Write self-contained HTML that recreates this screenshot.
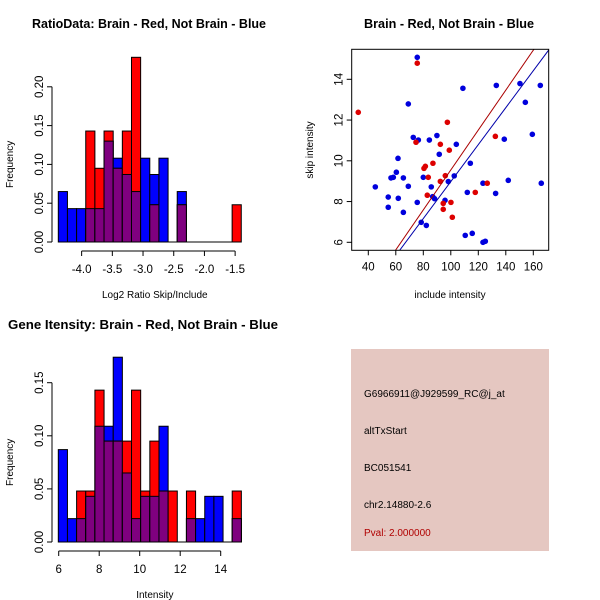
<!DOCTYPE html>
<html><head><meta charset="utf-8"><style>
body{margin:0;background:#fff}
svg{display:block;font-family:"Liberation Sans",sans-serif}
</style></head><body>
<svg id="s" width="600" height="600" xmlns="http://www.w3.org/2000/svg">
<rect width="600" height="600" fill="#fff"/>
<text x="149" y="28" font-size="12.5" font-weight="bold" text-anchor="middle" textLength="234" lengthAdjust="spacingAndGlyphs">RatioData: Brain - Red, Not Brain - Blue</text>
<text x="449" y="28" font-size="12.5" font-weight="bold" text-anchor="middle" textLength="170" lengthAdjust="spacingAndGlyphs">Brain - Red, Not Brain - Blue</text>
<text x="143" y="329" font-size="12.5" font-weight="bold" text-anchor="middle" textLength="270" lengthAdjust="spacingAndGlyphs">Gene Itensity: Brain - Red, Not Brain - Blue</text>
<g>
<rect x="351" y="349" width="198" height="202" fill="#e5c7c1"/>
<text x="364" y="397" font-size="10">G6966911@J929599_RC@j_at</text>
<text x="364" y="434" font-size="10">altTxStart</text>
<text x="364" y="471" font-size="10">BC051541</text>
<text x="364" y="508" font-size="10">chr2.14880-2.6</text>
<text x="364" y="536" font-size="10" fill="#b00000">Pval: 2.000000</text>
</g>
</svg>
<script>
// Ratio histogram data
const ratioBlue=[0.065,0.043,0.043,0.043,0.043,0.13,0.108,0.087,0.065,0.108,0.087,0.108,0,0.065,0,0,0,0,0,0];
const ratioRed=[0,0,0,0.143,0.095,0.143,0.095,0.143,0.238,0,0.048,0,0,0.048,0,0,0,0,0,0.048];
const ratioXTicks=[-4.0,-3.5,-3.0,-2.5,-2.0,-1.5];
const ratioYTicks=[0,0.05,0.10,0.15,0.20];
const ratioStart=-4.38, ratioBinW=0.149;
// Intensity histogram data
const intBlue=[0.087,0.022,0.022,0.043,0.109,0.109,0.174,0.065,0.022,0.043,0.043,0.109,0,0,0.022,0.022,0.043,0.043,0,0.022];
const intRed=[0,0,0.048,0.048,0.143,0.095,0.095,0.095,0.143,0.048,0.095,0.048,0.048,0,0.048,0,0,0,0,0.048];
const intXTicks=[6,8,10,12,14];
const intYTicks=[0,0.05,0.10,0.15];
const intStart=5.98, intBinW=0.452;
// Scatter data
const blueX=[75.6,45.1,54.5,54.5,61.6,60.4,56.5,58.2,61.8,65.5,65.5,69.1,69.1,72.7,76.4,75.6,78.5,80,82.2,84.4,85.8,86.8,88.2,89.9,91.6,98.2,95.8,104,102.5,108.8,114.2,112,110.5,115.6,123.4,125.1,123.4,132.6,133.1,138.9,141.8,150.3,154.2,159.3,165.1,165.8];
const blueY=[15.08,8.72,7.72,8.22,10.12,9.44,9.16,9.19,8.16,9.16,7.47,12.79,8.75,11.15,11.02,7.96,6.98,9.19,6.83,11.02,8.72,8.24,8.14,11.24,10.32,8.98,8.06,10.81,9.26,13.56,9.88,8.45,6.34,6.44,6.0,6.05,8.9,8.4,13.7,11.06,9.04,13.79,12.87,11.3,13.7,8.9];
const redX=[32.7,75.6,74.7,97.5,92.4,98.9,87,81.5,80.5,83.6,96,92.4,82.9,94.5,100.1,94.5,101.1,117.8,126.5,132.4];
const redY=[12.38,14.79,10.91,11.89,10.81,10.52,9.88,9.73,9.63,9.19,9.27,8.99,8.31,7.91,7.96,7.62,7.23,8.45,8.9,11.2];
const redFit=[-0.25,0.098]; const blueFit=[-0.09,0.0907];
const scXTicks=[40,60,80,100,120,140,160];
const scYTicks=[6,8,10,12,14];

const NS="http://www.w3.org/2000/svg", svg=document.getElementById('s');
function mk(tag,attrs,parent){const e=document.createElementNS(NS,tag);for(const k in attrs)e.setAttribute(k,attrs[k]);(parent||svg).appendChild(e);return e;}
function txt(x,y,s,attrs,parent){const t=mk('text',Object.assign({x:x,y:y,'font-size':11.5,'text-anchor':'middle'},attrs||{}),parent);t.textContent=s;return t;}

function hist(name,blue,red,start,bw,xTicks,yTicks,x0,xScale,y0,yScale,xAxisY,xLabel,xFmt){
  const g=mk('g',{});
  
  
  const X=v=>x0+(v-start)*xScale, Y=v=>y0-v*yScale;
  for(let i=0;i<blue.length;i++){
    const b=blue[i],r=red[i],m=Math.min(b,r);
    const xa=X(start+i*bw), w=bw*xScale;
    if(b>0){const e=mk('rect',{x:xa,y:Y(b),width:w,height:b*yScale,fill:'#0000ff',stroke:'#000','stroke-width':1},g);
      
      }
    if(r>0){const e=mk('rect',{x:xa,y:Y(r),width:w,height:r*yScale,fill:'#ff0000',stroke:'#000','stroke-width':1},g);
      
      }
    if(m>0){const e=mk('rect',{x:xa,y:Y(m),width:w,height:m*yScale,fill:'#7f007f',stroke:'#000','stroke-width':1},g);
      
      }
  }
  mk('line',{x1:X(start),x2:X(start+blue.length*bw),y1:y0,y2:y0,stroke:'#000'},g);
  const ya=mk('g',{},g);
  
  
  mk('line',{x1:52,x2:52,y1:Y(yTicks[0]),y2:Y(yTicks[yTicks.length-1]),stroke:'#000'},ya);
  yTicks.forEach(t=>{mk('line',{x1:47,x2:52,y1:Y(t),y2:Y(t),stroke:'#000'},ya);
    txt(0,0,t.toFixed(2),{transform:`translate(43,${Y(t)}) rotate(-90)`},ya);});
  const yt=txt(0,0,'Frequency',{transform:`translate(13,${(Y(yTicks[0])+Y(yTicks[yTicks.length-1]))/2}) rotate(-90)`,'font-size':10},g);
  
  
  const xa=mk('g',{},g);
  
  
  mk('line',{x1:X(xTicks[0]),x2:X(xTicks[xTicks.length-1]),y1:xAxisY,y2:xAxisY,stroke:'#000'},xa);
  xTicks.forEach(t=>{mk('line',{x1:X(t),x2:X(t),y1:xAxisY,y2:xAxisY+5,stroke:'#000'},xa);
    txt(X(t),xAxisY+22,xFmt(t),{},xa);});
  const xt=txt((x0+X(start+blue.length*bw))/2+5,xAxisY+47,xLabel,{'font-size':10},g);
  
  
}
hist('ratio-histogram',ratioBlue,ratioRed,ratioStart,ratioBinW,ratioXTicks,ratioYTicks,58.3,61.4,242,776,251,'Log2 Ratio Skip/Include',t=>t.toFixed(1));
hist('intensity-histogram',intBlue,intRed,intStart,intBinW,intXTicks,intYTicks,58.3,20.25,542,1062,551,'Intensity',t=>String(t));

(function(){
  const g=mk('g',{});
  
  
  const L=351.7,R=548.7,T=49.3,B=250.3;
  const X=v=>368.3+(v-40)*1.375, Y=v=>242.3-(v-6)*20.375;
  const cp=mk('clipPath',{id:'cp'},g);
  mk('rect',{x:L,y:T,width:R-L,height:B-T},cp);
  const pts=mk('g',{'clip-path':'url(#cp)'},g);
  blueX.forEach((v,i)=>{const c=mk('circle',{cx:X(v),cy:Y(blueY[i]),r:2.8,fill:'#0000dd'},pts);
    
    });
  redX.forEach((v,i)=>{const c=mk('circle',{cx:X(v),cy:Y(redY[i]),r:2.8,fill:'#dd0000'},pts);
    
    });
  [[redFit,'#aa0000','fit-line-red'],[blueFit,'#0000aa','fit-line-blue']].forEach(([f,c,n])=>{
    const l=mk('line',{x1:X(20),y1:Y(f[0]+f[1]*20),x2:X(200),y2:Y(f[0]+f[1]*200),stroke:c,'stroke-width':1},pts);
    
    });
  mk('rect',{x:L,y:T,width:R-L,height:B-T,fill:'none',stroke:'#000'},g);
  const xa=mk('g',{},g);
  
  
  scXTicks.forEach(t=>{mk('line',{x1:X(t),x2:X(t),y1:B,y2:B+5,stroke:'#000'},xa);txt(X(t),B+20,String(t),{},xa);});
  const ya=mk('g',{},g);
  
  
  scYTicks.forEach(t=>{mk('line',{x1:L-5,x2:L,y1:Y(t),y2:Y(t),stroke:'#000'},ya);
    txt(0,0,String(t),{transform:`translate(${L-9},${Y(t)}) rotate(-90)`},ya);});
  const xt=txt(450,298,'include intensity',{'font-size':10},g);
  
  
  const yt=txt(0,0,'skip intensity',{transform:`translate(313,150) rotate(-90)`,'font-size':10},g);
  
  
})();
</script>
</body></html>
